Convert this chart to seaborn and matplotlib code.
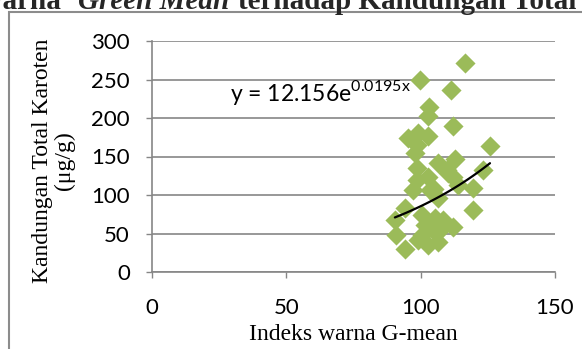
import matplotlib
matplotlib.use("Agg")
import matplotlib.pyplot as plt
import numpy as np
import pandas as pd
import seaborn as sns
from matplotlib.patches import Rectangle

# --- Data ---
g_mean = [116.5, 99.7, 111.3, 103.2, 102.8, 111.9, 125.8, 95.4, 99.1, 102.8,
          98.5, 97.9, 98.5, 106.6, 112.8, 109.8, 102.8, 112.0, 98.5, 97.2,
          103.5, 106.6, 119.5, 119.5, 123.2, 113.9, 90.4, 94.2, 100.4, 105.3,
          101.6, 107.2, 112.0, 91.0, 100.4, 102.8, 106.5, 94.2, 99.0, 104.6,
          108.3, 110.2, 105.0]
karoten = [272, 250, 237, 214, 202, 190, 164, 174, 180, 177,
           165, 154, 135, 141, 147, 133, 123, 123, 119, 106,
           106, 96, 109, 80, 132, 113, 68, 83, 74, 70,
           61, 55, 58, 48, 48, 35, 39, 30, 42, 55,
           68, 128, 108]
trend_a = 12.156
trend_b = 0.0195
x_ticks = [0, 50, 100, 150]
y_ticks = [0, 50, 100, 150, 200, 250, 300]

df = pd.DataFrame({"gmean": g_mean, "karoten": karoten})
x_fit = np.linspace(min(g_mean), max(g_mean), 100)
df_fit = pd.DataFrame({"x": x_fit, "y": trend_a * np.exp(trend_b * x_fit)})

sns.set_theme(style="white")
plt.rcParams["font.family"] = ["Lato", "DejaVu Sans"]
plt.rcParams["mathtext.fontset"] = "custom"
plt.rcParams["mathtext.rm"] = "Lato"

W, H = 582, 349
fig = plt.figure(figsize=(W / 100, H / 100), dpi=100)
ax = fig.add_axes([152 / W, 1 - 272 / H, (555 - 152) / W, (272 - 41) / H])

grid_c = "#868686"
ax.set_axisbelow(True)
ax.grid(axis="y", color=grid_c, linewidth=1.2)

sns.scatterplot(data=df, x="gmean", y="karoten", marker="D", s=105,
                color="#9BBB59", linewidth=0, alpha=1, ax=ax, zorder=3)
sns.lineplot(data=df_fit, x="x", y="y", color="black", linewidth=1.6, ax=ax, zorder=4)

ax.set_xlim(0, 150)
ax.set_ylim(0, 300)
ax.set_xticks(x_ticks)
ax.set_yticks(y_ticks)
for s in ["top", "right"]:
    ax.spines[s].set_visible(False)
for s in ["left", "bottom"]:
    ax.spines[s].set_color(grid_c)
    ax.spines[s].set_linewidth(1.2)
ax.tick_params(axis="y", direction="out", length=4, width=1, color=grid_c,
               labelsize=16, pad=12, left=True)
ax.tick_params(axis="x", direction="out", length=4.5, width=1, color=grid_c,
               labelsize=16, pad=14, bottom=True)
for lab in ax.get_xticklabels() + ax.get_yticklabels():
    lab.set_color("black")

serif = ["Liberation Serif", "DejaVu Serif"]
ax.set_xlabel("Indeks warna G-mean", fontsize=17, family=serif, color="black")
ax.xaxis.set_label_coords(0.5, -0.225)
ax.set_ylabel("Kandungan Total Karoten\n(μg/g)", fontsize=17, family=serif,
              color="black", linespacing=1.05)
ax.yaxis.set_label_coords(-0.19, 0.48)

ax.text(29, 222, "y = 12.156e$^{\\mathrm{0.0195x}}$", fontsize=16.5, color="black",
        va="baseline", ha="left")

# chart border
fig.patches.append(Rectangle((9 / W, -0.1), 1.2, 1 - 12 / H + 0.1,
                             transform=fig.transFigure, fill=False,
                             edgecolor="#8c8c8c", linewidth=1.5))

# cut-off caption at the top
ty = 1 - 9 / H
fig.text(-24 / W, ty, "Warna", fontsize=21, weight="bold", family=serif, va="baseline")
fig.text(78 / W, ty, "Green Mean", fontsize=21, weight="bold", style="italic",
         family=serif, va="baseline")
fig.text(238 / W, ty, "terhadap Kandungan Total", fontsize=21, weight="bold",
         family=serif, va="baseline")

fig.savefig("out.png", dpi=100)
